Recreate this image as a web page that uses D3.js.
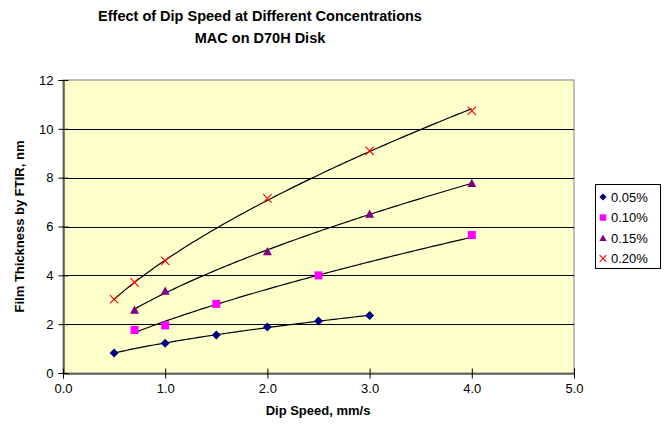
<!DOCTYPE html>
<html><head><meta charset="utf-8">
<script src="https://cdn.jsdelivr.net/npm/d3@7"></script>
<style>body{margin:0;background:#fff}svg{display:block}text{font-family:"Liberation Sans",Arial,sans-serif}</style>
</head><body><svg id="c" width="666" height="431"></svg>
<script>
const seriesNames = ["0.05%","0.10%","0.15%","0.20%"];
const x005 = [0.5,1.0,1.5,2.0,2.5,3.0];
const y005 = [0.82,1.22,1.56,1.88,2.13,2.35];
const x010 = [0.7,1.0,1.5,2.5,4.0];
const y010 = [1.76,1.95,2.83,4.0,5.65];
const x015 = [0.7,1.0,2.0,3.0,4.0];
const y015 = [2.58,3.36,4.98,6.51,7.77];
const x020 = [0.5,0.7,1.0,2.0,3.0,4.0];
const y020 = [3.02,3.71,4.59,7.15,9.10,10.74];
const xTicks = [0,1,2,3,4,5];
const yTicks = [0,2,4,6,8,10,12];
const colors = ["#000080","#FF00FF","#800080","#FF0000"];

const svg = d3.select("#c");
const L=63,R=574,T=80,B=373;
const x = d3.scaleLinear().domain([0,5]).range([L,R]);
const y = d3.scaleLinear().domain([0,12]).range([B,T]);

svg.append("rect").attr("x",L).attr("y",T).attr("width",R-L).attr("height",B-T).attr("fill","#FFFFCC").attr("stroke","#808080").attr("stroke-width",1);

// gridlines
svg.append("g").selectAll("line").data(yTicks.filter(v=>v>0 && v<12)).join("line")
  .attr("x1",L).attr("x2",R).attr("y1",d=>Math.round(y(d))+0.5).attr("y2",d=>Math.round(y(d))+0.5)
  .attr("stroke","#000").attr("stroke-width",1);

// axes
const ya = svg.append("g").attr("transform",`translate(${L+0.5},0)`)
  .call(d3.axisLeft(y).tickValues(yTicks).tickFormat(d3.format("d")).tickSize(5).tickPadding(5));
const xa = svg.append("g").attr("transform",`translate(0,${B+0.5})`)
  .call(d3.axisBottom(x).tickValues(xTicks).tickFormat(d3.format(".1f")).tickSize(5).tickPadding(5));
ya.selectAll(".tick line").attr("x1",5);
xa.selectAll(".tick line").attr("y1",-5);
[ya,xa].forEach(a=>{
  a.select(".domain").attr("stroke","#000");
  a.selectAll(".tick line").attr("stroke","#000");
  a.selectAll("text").attr("font-size",13).attr("fill","#000").style("font-family","Liberation Sans, Arial, sans-serif");
});

// titles
svg.append("text").attr("x",260).attr("y",21).attr("text-anchor","middle").attr("font-size",14.5).attr("font-weight","bold").text("Effect of Dip Speed at Different Concentrations");
svg.append("text").attr("x",260).attr("y",43).attr("text-anchor","middle").attr("font-size",14.5).attr("font-weight","bold").text("MAC on D70H Disk");
svg.append("text").attr("x",318).attr("y",415).attr("text-anchor","middle").attr("font-size",13).attr("font-weight","bold").text("Dip Speed, mm/s");
svg.append("text").attr("transform",`translate(24,${(T+B)/2}) rotate(-90)`).attr("text-anchor","middle").attr("font-size",13).attr("font-weight","bold").text("Film Thickness by FTIR, nm");

const data = [[x005,y005],[x010,y010],[x015,y015],[x020,y020]];

// power trendlines (least squares in log-log)
function powerFit(xs,ys){
  const lx=xs.map(Math.log), ly=ys.map(Math.log);
  const mx=d3.mean(lx), my=d3.mean(ly);
  const b=d3.sum(lx.map((v,i)=>(v-mx)*(ly[i]-my)))/d3.sum(lx.map(v=>(v-mx)**2));
  const a=Math.exp(my-b*mx);
  return v=>a*Math.pow(v,b);
}
const line = d3.line().x(d=>x(d[0])).y(d=>y(d[1]));
data.forEach(([xs,ys])=>{
  const f=powerFit(xs,ys);
  const x0=d3.min(xs), x1=d3.max(xs);
  const pts=d3.range(0,101).map(i=>{const v=x0+(x1-x0)*i/100;return [v,f(v)];});
  svg.append("path").attr("d",line(pts)).attr("fill","none").attr("stroke","#000").attr("stroke-width",1.2);
});

// markers
function drawMarker(g,i,cx,cy,s){
  let d;
  if(i===0){const r=4.5*s; d=`M${cx},${cy-r}L${cx+r},${cy}L${cx},${cy+r}L${cx-r},${cy}Z`;}
  else if(i===1){const r=4*s; d=`M${cx-r},${cy-r}h${2*r}v${2*r}h${-2*r}Z`;}
  else if(i===2){const r=4.5*s; d=`M${cx},${cy-r}L${cx+r},${cy+r*0.85}L${cx-r},${cy+r*0.85}Z`;}
  if(d){ g.append("path").attr("d",d).attr("fill",colors[i]); return; }
  const r=4.2*s;
  g.append("path").attr("d",`M${cx-r},${cy-r}L${cx+r},${cy+r}M${cx-r},${cy+r}L${cx+r},${cy-r}`).attr("stroke",colors[i]).attr("stroke-width",1.1).attr("fill","none");
}
const mg=svg.append("g");
data.forEach(([xs,ys],i)=>{
  xs.forEach((v,j)=>drawMarker(mg,i,x(v),y(ys[j]),1));
});

// legend
const lg=svg.append("g");
lg.append("rect").attr("x",595.5).attr("y",184.5).attr("width",65).attr("height",84).attr("fill","#fff").attr("stroke","#000");
seriesNames.forEach((nm,i)=>{
  const cy=197+i*20.5;
  drawMarker(lg,i,603,cy,0.8);
  lg.append("text").attr("x",611).attr("y",cy+4.5).attr("font-size",13).text(nm);
});
</script></body></html>
